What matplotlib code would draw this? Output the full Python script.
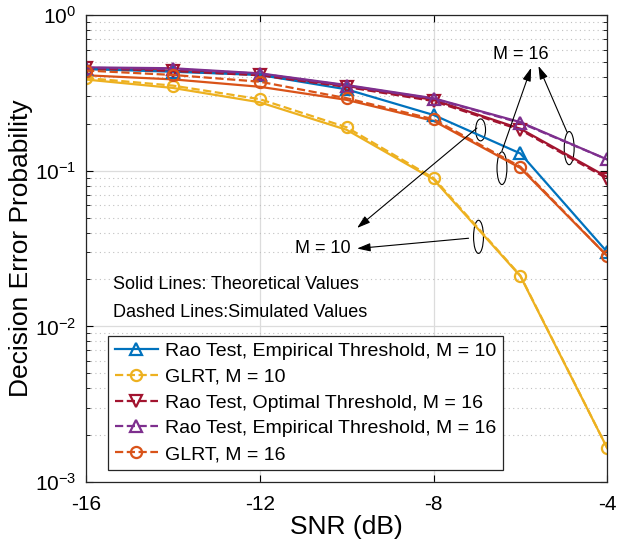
import matplotlib
matplotlib.use("Agg")
import matplotlib.pyplot as plt
from matplotlib.patches import Ellipse

plt.rcParams['font.family'] = ['Liberation Sans', 'DejaVu Sans']
plt.rcParams['axes.unicode_minus'] = False

# data
snr = [-16, -14, -12, -10, -8, -6, -4]

rao_emp_m10 = [0.45, 0.432, 0.412, 0.333, 0.228, 0.129, 0.030]

glrt_m10_theory = [0.385, 0.34, 0.275, 0.183, 0.088, 0.021, 0.00165]
glrt_m10_sim = [0.394, 0.352, 0.288, 0.19, 0.0898, 0.0212, 0.00165]

rao_opt_m16_theory = [0.45, 0.44, 0.415, 0.35, 0.285, 0.186, 0.091]
rao_opt_m16_sim = [0.455, 0.437, 0.41, 0.345, 0.28, 0.183, 0.089]

rao_emp_m16_theory = [0.461, 0.455, 0.422, 0.355, 0.292, 0.205, 0.118]
rao_emp_m16_sim = [0.458, 0.45, 0.42, 0.352, 0.29, 0.203, 0.118]

glrt_m16_theory = [0.41, 0.386, 0.346, 0.285, 0.209, 0.104, 0.0283]
glrt_m16_sim = [0.44, 0.412, 0.373, 0.292, 0.214, 0.106, 0.0283]

labels = ["Rao Test, Empirical Threshold, M = 10",
          "GLRT, M = 10",
          "Rao Test, Optimal Threshold, M = 16",
          "Rao Test, Empirical Threshold, M = 16",
          "GLRT, M = 16"]

blue = '#0072BD'
orange = '#D95319'
yellow = '#EDB120'
purple = '#7E2F8E'
red = '#A2142F'

fig = plt.figure(figsize=(6.19, 5.5), dpi=100)
ax = fig.add_axes([0.139, 0.1236, 0.842, 0.8491])

lw = 1.6
ms = 8
mk = dict(markerfacecolor='none', markeredgewidth=1.6, markersize=ms)

# theoretical curves (solid)
ax.plot(snr, glrt_m10_theory, color=yellow, lw=lw)
ax.plot(snr, glrt_m16_theory, color=orange, lw=lw)
ax.plot(snr, rao_opt_m16_theory, color=red, lw=lw)
ax.plot(snr, rao_emp_m16_theory, color=purple, lw=lw)

# legend curves
h1, = ax.plot(snr, rao_emp_m10, color=blue, lw=lw, marker='^', **mk)
h2, = ax.plot(snr, glrt_m10_sim, color=yellow, lw=lw, ls='--', marker='o', **mk)
h3, = ax.plot(snr, rao_opt_m16_sim, color=red, lw=lw, ls='--', marker='v', **mk)
h4, = ax.plot(snr, rao_emp_m16_sim, color=purple, lw=lw, ls='--', marker='^', **mk)
h5, = ax.plot(snr, glrt_m16_sim, color=orange, lw=lw, ls='--', marker='o', **mk)

ax.set_yscale('log')
ax.set_xlim(-16, -4)
ax.set_ylim(1e-3, 1)
ax.set_xticks([-16, -12, -8, -4])
ax.tick_params(which='both', direction='in', top=True, right=True, labelsize=15)
ax.tick_params(axis='x', pad=9)
ax.tick_params(axis='y', pad=7)
ax.tick_params(which='major', length=5)
ax.tick_params(which='minor', length=3)
ax.grid(True, which='major', color='#dcdcdc', lw=0.9)
ax.grid(True, which='minor', axis='y', color='#c0c0c0', ls=(0, (1, 3)), lw=0.8)
ax.set_axisbelow(True)
for s in ax.spines.values():
    s.set_color('#262626')
    s.set_linewidth(0.9)

ax.set_xlabel("SNR (dB)", fontsize=19, labelpad=1)
ax.set_ylabel("Decision Error Probability", fontsize=19)
ax.yaxis.set_label_coords(-0.102, 0.5)

leg = ax.legend([h1, h2, h3, h4, h5], labels, loc='lower left',
                bbox_to_anchor=(0.042, 0.026), fontsize=14, fancybox=False,
                framealpha=1, edgecolor='#262626', handlelength=2.2,
                borderaxespad=0, labelspacing=0.42, handletextpad=0.4,
                borderpad=0.35)
leg.get_frame().set_linewidth(0.9)

ax.text(0.052, 0.422, "Solid Lines: Theoretical Values", transform=ax.transAxes,
        fontsize=13, va='center')
ax.text(0.052, 0.364, "Dashed Lines:Simulated Values", transform=ax.transAxes,
        fontsize=13, va='center')

arr = dict(arrowstyle='-|>,head_length=0.8,head_width=0.25', color='k', lw=0.8,
           shrinkA=0, shrinkB=0)
ax.text(0.835, 0.916, "M = 16", transform=ax.transAxes, fontsize=13,
        ha='center', va='center')
ax.annotate("", xy=(0.854, 0.887), xytext=(0.798, 0.709),
            xycoords='axes fraction', arrowprops=arr)
ax.annotate("", xy=(0.868, 0.891), xytext=(0.923, 0.749),
            xycoords='axes fraction', arrowprops=arr)
ax.text(0.455, 0.501, "M = 10", transform=ax.transAxes, fontsize=13,
        ha='center', va='center')
ax.annotate("", xy=(0.52, 0.544), xytext=(0.75, 0.758),
            xycoords='axes fraction', arrowprops=arr)
ax.annotate("", xy=(0.52, 0.50), xytext=(0.734, 0.522),
            xycoords='axes fraction', arrowprops=arr)

for cx, cy, h in [(0.798, 0.672, 0.07), (0.927, 0.715, 0.071),
                  (0.757, 0.754, 0.047), (0.753, 0.525, 0.071)]:
    ax.add_patch(Ellipse((cx, cy), 0.019, h, transform=ax.transAxes,
                         fill=False, color='k', lw=0.8))

fig.savefig("out.png", dpi=100)
